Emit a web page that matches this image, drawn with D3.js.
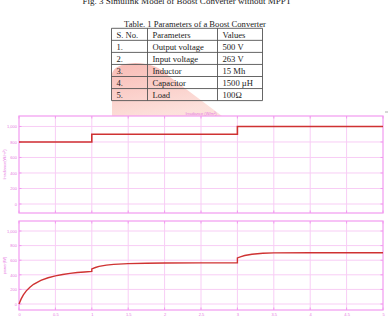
<!DOCTYPE html>
<html><head><meta charset="utf-8">
<script src="https://cdn.jsdelivr.net/npm/d3@7"></script>
<style>html,body{margin:0;padding:0;background:#fff;}svg{display:block;}</style>
</head><body>
<svg id="c" width="392" height="319"></svg>
<script>
// ---- data ----
const caption = "Fig. 3 Simulink Model of Boost Converter without MPPT";
const tableTitle = "Table. 1 Parameters of a Boost Converter";
const tableHeader = ["S. No.", "Parameters", "Values"];
const tableSNo = ["1.", "2.", "3.", "4.", "5."];
const tableParams = ["Output voltage", "Input voltage", "Inductor", "Capacitor", "Load"];
const tableValues = ["500 V", "263 V", "15 Mh", "1500 \u00b5H", "100\u03a9"];

const timeTicks = [0, 0.5, 1, 1.5, 2, 2.5, 3, 3.5, 4, 4.5, 5];
const timeTickLabels = ["0", "0.5", "1", "1.5", "2", "2.5", "3", "3.5", "4", "4.5", "5"];
const yTicks = [0, 200, 400, 600, 800, 1000];

const irrTime = [0, 1, 3, 5];
const irrValue = [800, 900, 1000, 1000];

const powTime = [0, 0.03, 0.06, 0.1, 0.15, 0.2, 0.3, 0.4, 0.5, 0.6, 0.7, 0.8, 0.9, 1.0, 1.0, 1.05, 1.1, 1.2, 1.3, 1.5, 1.75, 2.0, 2.5, 3.0, 3.0, 3.05, 3.1, 3.2, 3.35, 3.5, 4.0, 4.5, 5.0];
const powValue = [0, 70, 125, 180, 230, 270, 325, 360, 385, 405, 420, 431, 439, 446, 480, 500, 515, 532, 543, 553, 558, 561, 563, 565, 632, 650, 665, 682, 695, 700, 702, 702, 702];

const plot1Title = "Irradiance (W/m\u00b2)";
const plot1YLabel = "Irradiance(W/m\u00b2)";
const plot2YLabel = "power(W)";

// ---- drawing ----
const svg = d3.select("#c");
const serif = "'Liberation Serif','Times New Roman',serif";
const sans = "'Liberation Sans',Arial,sans-serif";
const borderCol = "#f29af0", gridCol = "#f8cdf5", textCol = "#e679e2", lineCol = "#cf3232";

// watermark-ish blob behind table
const defs = svg.append("defs");
const gr = defs.append("linearGradient").attr("id", "blob").attr("x1", 0).attr("y1", 0).attr("x2", 0.4).attr("y2", 1);
gr.append("stop").attr("offset", 0).attr("stop-color", "#f6aaa2").attr("stop-opacity", 0.8);
gr.append("stop").attr("offset", 1).attr("stop-color", "#fcd9d3").attr("stop-opacity", 0.8);
svg.append("path")
  .attr("d", "M112,116 L112,74 Q114,64 135,63 Q157,63 170,77 L222,116 Z")
  .attr("fill", "url(#blob)");

// caption (cut off at top, as in the reference)
svg.append("text").attr("x", 187).attr("y", 3.5).attr("text-anchor", "middle")
  .attr("font-family", serif).attr("font-size", 9).attr("fill", "#222").text(caption);

// table
svg.append("text").attr("x", 195).attr("y", 26.5).attr("text-anchor", "middle")
  .attr("font-family", serif).attr("font-size", 8.6).attr("fill", "#222").text(tableTitle);
const colX = [111.5, 147.5, 217.5, 262.5];
const rowY = d3.range(7).map(i => 28.3 + i * 12.05);
const tg = svg.append("g");
rowY.forEach(y => tg.append("line").attr("x1", colX[0]).attr("x2", colX[3]).attr("y1", y).attr("y2", y)
  .attr("stroke", "#555").attr("stroke-width", 0.9));
colX.forEach(x => tg.append("line").attr("x1", x).attr("x2", x).attr("y1", rowY[0]).attr("y2", rowY[6])
  .attr("stroke", "#555").attr("stroke-width", 0.9));
const rows = [tableHeader].concat(tableSNo.map((s, i) => [s, tableParams[i], tableValues[i]]));
rows.forEach((r, i) => r.forEach((t, j) => {
  tg.append("text").attr("x", colX[j] + 5).attr("y", rowY[i] + 9.3)
    .attr("font-family", serif).attr("font-size", 8.6).attr("fill", "#222").text(t);
}));

// plots
function drawPlot(cfg) {
  const x = d3.scaleLinear().domain([0, 5]).range([cfg.left, cfg.right]);
  const y = d3.scaleLinear().domain(cfg.yDomain).range([cfg.bottom, cfg.top]);
  const g = svg.append("g");
  g.append("g").selectAll("line").data(timeTicks.slice(1, -1)).join("line")
    .attr("x1", d => x(d)).attr("x2", d => x(d)).attr("y1", cfg.top).attr("y2", cfg.bottom)
    .attr("stroke", gridCol).attr("stroke-width", 1);
  g.append("g").selectAll("line").data(yTicks).join("line")
    .attr("x1", cfg.left).attr("x2", cfg.right).attr("y1", d => y(d)).attr("y2", d => y(d))
    .attr("stroke", gridCol).attr("stroke-width", 1);
  const axL = d3.axisLeft(y).tickValues(yTicks).tickSize(0).tickPadding(2);
  const gl = g.append("g").attr("transform", `translate(${cfg.left},0)`).call(axL);
  gl.select(".domain").remove();
  gl.selectAll("text").attr("font-family", sans).attr("font-size", 4).attr("fill", textCol);
  g.append("g").selectAll("line").data(yTicks).join("line")
    .attr("x1", cfg.left).attr("x2", cfg.left + 2.5).attr("y1", d => y(d)).attr("y2", d => y(d))
    .attr("stroke", borderCol);
  g.append("g").selectAll("line").data(yTicks).join("line")
    .attr("x1", cfg.right - 2.5).attr("x2", cfg.right).attr("y1", d => y(d)).attr("y2", d => y(d))
    .attr("stroke", borderCol);
  g.append("g").selectAll("line").data(timeTicks).join("line")
    .attr("x1", d => x(d)).attr("x2", d => x(d)).attr("y1", cfg.bottom - 2.5).attr("y2", cfg.bottom)
    .attr("stroke", borderCol);
  g.append("g").selectAll("line").data(timeTicks).join("line")
    .attr("x1", d => x(d)).attr("x2", d => x(d)).attr("y1", cfg.top).attr("y2", cfg.top + 2.5)
    .attr("stroke", borderCol);
  if (cfg.xLabels) {
    const axB = d3.axisBottom(x).tickValues(timeTicks).tickFormat((d, i) => timeTickLabels[i]).tickSize(0).tickPadding(3);
    const gb = g.append("g").attr("transform", `translate(0,${cfg.bottom})`).call(axB);
    gb.select(".domain").remove();
    gb.selectAll("text").attr("font-family", sans).attr("font-size", 4).attr("fill", textCol);
  }
  g.append("rect").attr("x", cfg.left).attr("y", cfg.top).attr("width", cfg.right - cfg.left)
    .attr("height", cfg.bottom - cfg.top).attr("fill", "none").attr("stroke", borderCol).attr("stroke-width", 1.2);
  g.append("text").attr("transform", `translate(${cfg.ylx},${(cfg.top + cfg.bottom) / 2 + cfg.yOff}) rotate(-90)`)
    .attr("text-anchor", "middle").attr("font-family", sans).attr("font-size", 4).attr("fill", textCol).text(cfg.ylabel);
  if (cfg.title) {
    g.append("text").attr("x", (cfg.left + cfg.right) / 2).attr("y", cfg.top - 1.5).attr("text-anchor", "middle")
      .attr("font-family", sans).attr("font-size", 4).attr("fill", textCol).text(cfg.title);
  }
  const line = d3.line().x(d => x(d[0])).y(d => y(d[1])).curve(cfg.curve);
  g.append("path").datum(cfg.t.map((t, i) => [t, cfg.v[i]])).attr("d", line)
    .attr("fill", "none").attr("stroke", lineCol).attr("stroke-width", cfg.lw);
  return g;
}

drawPlot({ left: 19, right: 383, top: 116, bottom: 213, yDomain: [-116, 1135], xLabels: false,
  ylabel: plot1YLabel, ylx: 6, yOff: 0, title: plot1Title, t: irrTime, v: irrValue, curve: d3.curveStepAfter, lw: 1.6 });
drawPlot({ left: 19, right: 383, top: 221, bottom: 310, yDomain: [-82, 1137], xLabels: true,
  ylabel: plot2YLabel, ylx: 6, yOff: 0, title: null, t: powTime, v: powValue, curve: d3.curveLinear, lw: 1.4 });

svg.append("line").attr("x1", 385).attr("x2", 388).attr("y1", 112).attr("y2", 112).attr("stroke", "#999").attr("stroke-width", 0.8);
</script>
</body></html>
